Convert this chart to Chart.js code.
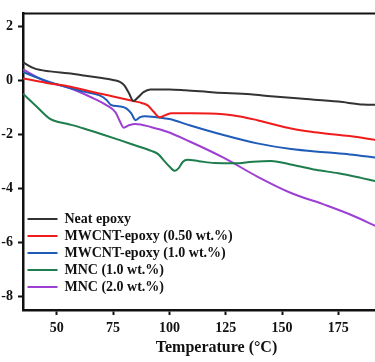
<!DOCTYPE html>
<html><head><meta charset="utf-8">
<script src="https://cdn.jsdelivr.net/npm/chart.js@4.4.1/dist/chart.umd.min.js"></script>
<style>
html,body{margin:0;padding:0;overflow:hidden;background:#fff;width:375px;height:362px}
#wrap{width:410px;height:362px}
</style></head>
<body><div id="wrap"><canvas id="c" width="410" height="362"></canvas></div>
<script>
const seriesNames = ["Neat epoxy", "MWCNT-epoxy (0.50 wt.%)", "MWCNT-epoxy (1.0 wt.%)", "MNC (1.0 wt.%)", "MNC (2.0 wt.%)"];

const neatT = [35, 40, 47, 55, 62, 70, 75, 78, 80, 82, 84, 86, 88.5, 91.5, 100, 107, 120, 136, 145, 158, 175, 186, 192];
const neatV = [0.68, 0.46, 0.35, 0.28, 0.2, 0.1, 0.03, -0.04, -0.17, -0.45, -0.75, -0.62, -0.42, -0.32, -0.32, -0.35, -0.43, -0.5, -0.57, -0.66, -0.77, -0.88, -0.89];

const mw050T = [35, 45, 55, 65, 75, 84, 88, 90.5, 93, 95.7, 98, 101, 110, 124, 132, 139, 147, 154, 162, 169, 180, 192];
const mw050V = [0.09, -0.07, -0.2, -0.4, -0.58, -0.75, -0.83, -0.92, -1.15, -1.35, -1.28, -1.2, -1.2, -1.24, -1.33, -1.46, -1.63, -1.77, -1.88, -1.95, -2.05, -2.2];

const mw10T = [35, 40, 47, 55, 62, 69, 72, 74, 78, 81, 83, 85, 87, 89, 95, 100, 109, 124, 139, 154, 169, 180, 192];
const mw10V = [0.33, 0.16, -0.05, -0.25, -0.4, -0.54, -0.7, -0.89, -0.95, -1.03, -1.2, -1.46, -1.35, -1.31, -1.36, -1.42, -1.65, -2.01, -2.32, -2.53, -2.65, -2.73, -2.85];

const mnc10T = [35, 41, 47, 55, 62, 70, 78, 85, 92, 95, 98, 100, 102.5, 104, 106, 108, 113, 120, 129, 137, 145, 155, 165, 175, 185, 192];
const mnc10V = [-0.48, -0.95, -1.41, -1.6, -1.77, -1.98, -2.2, -2.4, -2.6, -2.72, -3.0, -3.18, -3.34, -3.25, -3.0, -2.93, -2.98, -3.05, -3.06, -3.0, -2.97, -3.12, -3.3, -3.43, -3.6, -3.73];

const mnc20T = [35, 45, 55, 65, 72, 76, 78, 79.7, 82, 85, 92, 99, 109, 124, 139, 154, 169, 180, 192];
const mnc20V = [0.42, -0.02, -0.25, -0.6, -0.9, -1.16, -1.5, -1.74, -1.65, -1.6, -1.72, -1.89, -2.25, -2.85, -3.55, -4.16, -4.6, -4.95, -5.4];

const xTicks = [50, 75, 100, 125, 150, 175];
const yTicks = [2, 0, -2, -4, -6, -8];

const colors = ["#333333", "#f01c1c", "#1f5cb8", "#1e7d4c", "#9d3fd2"];
const seriesT = [neatT, mw050T, mw10T, mnc10T, mnc20T];
const seriesV = [neatV, mw050V, mw10V, mnc10V, mnc20V];

const FONT = "'Liberation Serif','Times New Roman',serif";

const datasets = seriesNames.map((name, k) => ({
  label: name,
  data: seriesT[k].map((t, i) => ({x: t, y: seriesV[k][i]})),
  borderColor: colors[k],
  backgroundColor: colors[k],
  borderWidth: 2,
  pointRadius: 0,
  fill: false,
  cubicInterpolationMode: 'monotone'
}));

const legendPlace = {
  id: 'legendPlace',
  afterLayout(chart) {
    const lg = chart.legend, a = chart.chartArea;
    if (!lg) return;
    lg.left = a.left + 1.5;
    lg.right = a.right;
    lg.top = a.top;
    lg.bottom = a.bottom - 13;
  }
};
const topBorder = {
  id: 'topBorder',
  afterDraw(chart) {
    const {ctx, chartArea: a} = chart;
    ctx.save();
    ctx.strokeStyle = '#111';
    ctx.lineWidth = 2;
    ctx.beginPath();
    ctx.moveTo(a.left, a.top);
    ctx.lineTo(a.right, a.top);
    ctx.stroke();
    ctx.restore();
  }
};

const tickFont = {family: FONT, size: 14, weight: 'bold'};
const axisGrid = {drawOnChartArea: false, drawTicks: true, tickLength: 5, tickWidth: 2, tickColor: '#111'};
const axisBorder = {display: true, color: '#111', width: 2.5};

new Chart(document.getElementById('c'), {
  type: 'line',
  data: {datasets},
  options: {
    responsive: false,
    animation: false,
    devicePixelRatio: 1,
    layout: {padding: {top: 10, left: 0, right: 0, bottom: 0}},
    plugins: {
      tooltip: {enabled: false},
      legend: {
        position: 'chartArea',
        align: 'end',
        labels: {
          usePointStyle: true,
          pointStyle: 'line',
          pointStyleWidth: 30,
          padding: 3,
          color: '#111',
          font: {family: FONT, size: 14, weight: 'bold'}
        }
      }
    },
    scales: {
      x: {
        type: 'linear',
        min: 35,
        max: 206.8,
        afterBuildTicks: s => { s.ticks = xTicks.map(v => ({value: v})); },
        afterFit: s => { s.height = 52; },
        ticks: {font: tickFont, color: '#111', padding: 5, maxRotation: 0, autoSkip: false},
        grid: axisGrid,
        border: axisBorder,
        title: {display: true, text: 'Temperature (°C)', color: '#111', font: {family: FONT, size: 16, weight: 'bold'}, padding: {top: 0, bottom: 5}}
      },
      y: {
        type: 'linear',
        min: -8.5,
        max: 2.5,
        afterBuildTicks: s => { s.ticks = yTicks.map(v => ({value: v})); },
        afterFit: s => { s.width = 23; },
        ticks: {font: tickFont, color: '#111', padding: 5},
        grid: axisGrid,
        border: axisBorder
      }
    }
  },
  plugins: [legendPlace, topBorder]
});
</script>
</body></html>
